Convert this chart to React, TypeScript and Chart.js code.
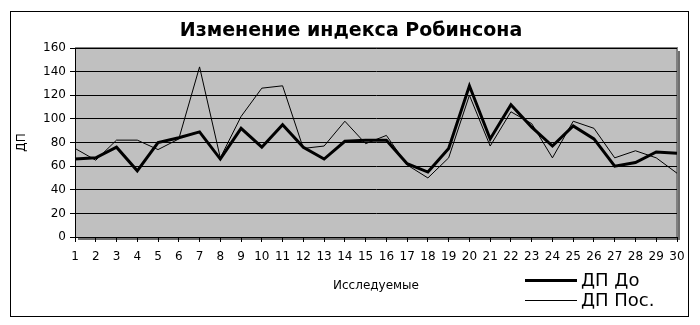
import React, { useEffect, useRef } from 'react';
import { Chart, registerables } from 'chart.js';

Chart.register(...registerables);

const subjects = ['1','2','3','4','5','6','7','8','9','10','11','12','13','14','15','16','17','18','19','20','21','22','23','24','25','26','27','28','29','30'];
const dpBefore = [66, 67, 76, 56, 80, 84, 89, 66, 92, 76, 95, 76, 66, 81, 82, 82, 62, 55, 75, 128, 83, 112, 93, 77, 94, 83, 60, 63, 72, 71];
const dpAfter = [75, 65, 82, 82, 74, 83, 144, 67, 102, 126, 128, 75, 77, 98, 79, 86, 61, 50, 67, 120, 77, 106, 96, 67, 98, 92, 67, 73, 67, 54];
const seriesLabels = ['ДП До', 'ДП Пос.'];
const titleText = 'Изменение индекса Робинсона';
const xTitle = 'Исследуемые';
const yTitle = 'ДП';
const yMin = 0;
const yMax = 160;
const yStep = 20;

const FONT = "'DejaVu Sans', sans-serif";

const plotBgPlugin = {
  id: 'plotBg',
  beforeDraw(chart: any) {
    const { ctx, chartArea } = chart;
    const { left, top, right, bottom } = chartArea;
    ctx.save();
    ctx.fillStyle = '#ffffff';
    ctx.fillRect(0, 0, chart.width, chart.height);
    // shadow
    ctx.fillStyle = '#6e6e6e';
    ctx.fillRect(left + 3, top + 3, right - left, bottom - top);
    ctx.fillStyle = '#c0c0c0';
    ctx.fillRect(left, top, right - left, bottom - top);
    ctx.strokeStyle = '#808080';
    ctx.lineWidth = 2;
    ctx.beginPath();
    ctx.moveTo(left, top);
    ctx.lineTo(right, top);
    ctx.lineTo(right, bottom);
    ctx.stroke();
    ctx.restore();
  },
  afterDraw(chart: any) {
    const { ctx } = chart;
    ctx.save();
    // outer frame
    ctx.strokeStyle = '#000000';
    ctx.lineWidth = 1;
    ctx.strokeRect(10.5, 11.5, 678, 305);
    // title
    ctx.fillStyle = '#000000';
    ctx.font = `bold 19px ${FONT}`;
    ctx.textAlign = 'center';
    ctx.textBaseline = 'middle';
    ctx.fillText(titleText, 351, 31);
    // legend
    const ds = chart.data.datasets;
    const x0 = 525;
    const x1 = 577;
    const ys = [280, 300];
    ctx.font = `18px ${FONT}`;
    ctx.textBaseline = 'middle';
    ctx.textAlign = 'left';
    ds.forEach((d: any, i: number) => {
      ctx.strokeStyle = d.borderColor;
      ctx.lineWidth = d.borderWidth;
      ctx.beginPath();
      ctx.moveTo(x0, ys[i] + (d.borderWidth % 2 ? 0.5 : 0));
      ctx.lineTo(x1, ys[i] + (d.borderWidth % 2 ? 0.5 : 0));
      ctx.stroke();
      ctx.fillText(d.label, x1 + 4, ys[i] + 1);
    });
    ctx.restore();
  },
};

export default function App() {
  const ref = useRef<HTMLCanvasElement | null>(null);
  useEffect(() => {
    if (!ref.current) return;
    const chart = new Chart(ref.current, {
      type: 'line',
      data: {
        labels: subjects,
        datasets: [
          {
            label: seriesLabels[0],
            data: dpBefore,
            borderColor: '#000000',
            borderWidth: 3,
            pointRadius: 0,
            tension: 0,
            fill: false,
          },
          {
            label: seriesLabels[1],
            data: dpAfter,
            borderColor: '#000000',
            borderWidth: 1,
            pointRadius: 0,
            tension: 0,
            fill: false,
          },
        ],
      },
      options: {
        responsive: false,
        animation: false,
        layout: { padding: { top: 48, left: 0, right: 23, bottom: 0 } },
        plugins: {
          legend: { display: false },
          tooltip: { enabled: false },
          title: { display: false },
        },
        scales: {
          x: {
            type: 'category',
            offset: false,
            afterFit(scale: any) { scale.height = 88; },
            grid: {
              drawOnChartArea: false,
              drawTicks: true,
              tickLength: 5,
              color: '#000000',
              offset: false,
            },
            border: { display: true, color: '#000000', width: 1 },
            ticks: {
              autoSkip: false,
              maxRotation: 0,
              minRotation: 0,
              padding: 8,
              color: '#000000',
              font: { family: FONT, size: 12 },
            },
            title: {
              display: true,
              text: xTitle,
              color: '#000000',
              font: { family: FONT, size: 12 },
              padding: { top: 0, bottom: 32 },
            },
          },
          y: {
            min: yMin,
            max: yMax,
            afterFit(scale: any) { scale.width = 75; },
            grid: {
              drawOnChartArea: true,
              drawTicks: true,
              tickLength: 5,
              color: '#000000',
            },
            border: { display: true, color: '#000000', width: 1 },
            ticks: {
              stepSize: yStep,
              padding: 4,
              color: '#000000',
              font: { family: FONT, size: 12 },
            },
            title: {
              display: true,
              text: yTitle,
              color: '#000000',
              font: { family: FONT, size: 12 },
              padding: { top: 15, bottom: 0 },
            },
          },
        },
      },
      plugins: [plotBgPlugin],
    });
    return () => chart.destroy();
  }, []);
  return (
    <div style={{ position: 'absolute', left: 0, top: 0, width: 700, height: 325 }}>
      <canvas ref={ref} width={700} height={325} style={{ display: 'block' }} />
    </div>
  );
}
